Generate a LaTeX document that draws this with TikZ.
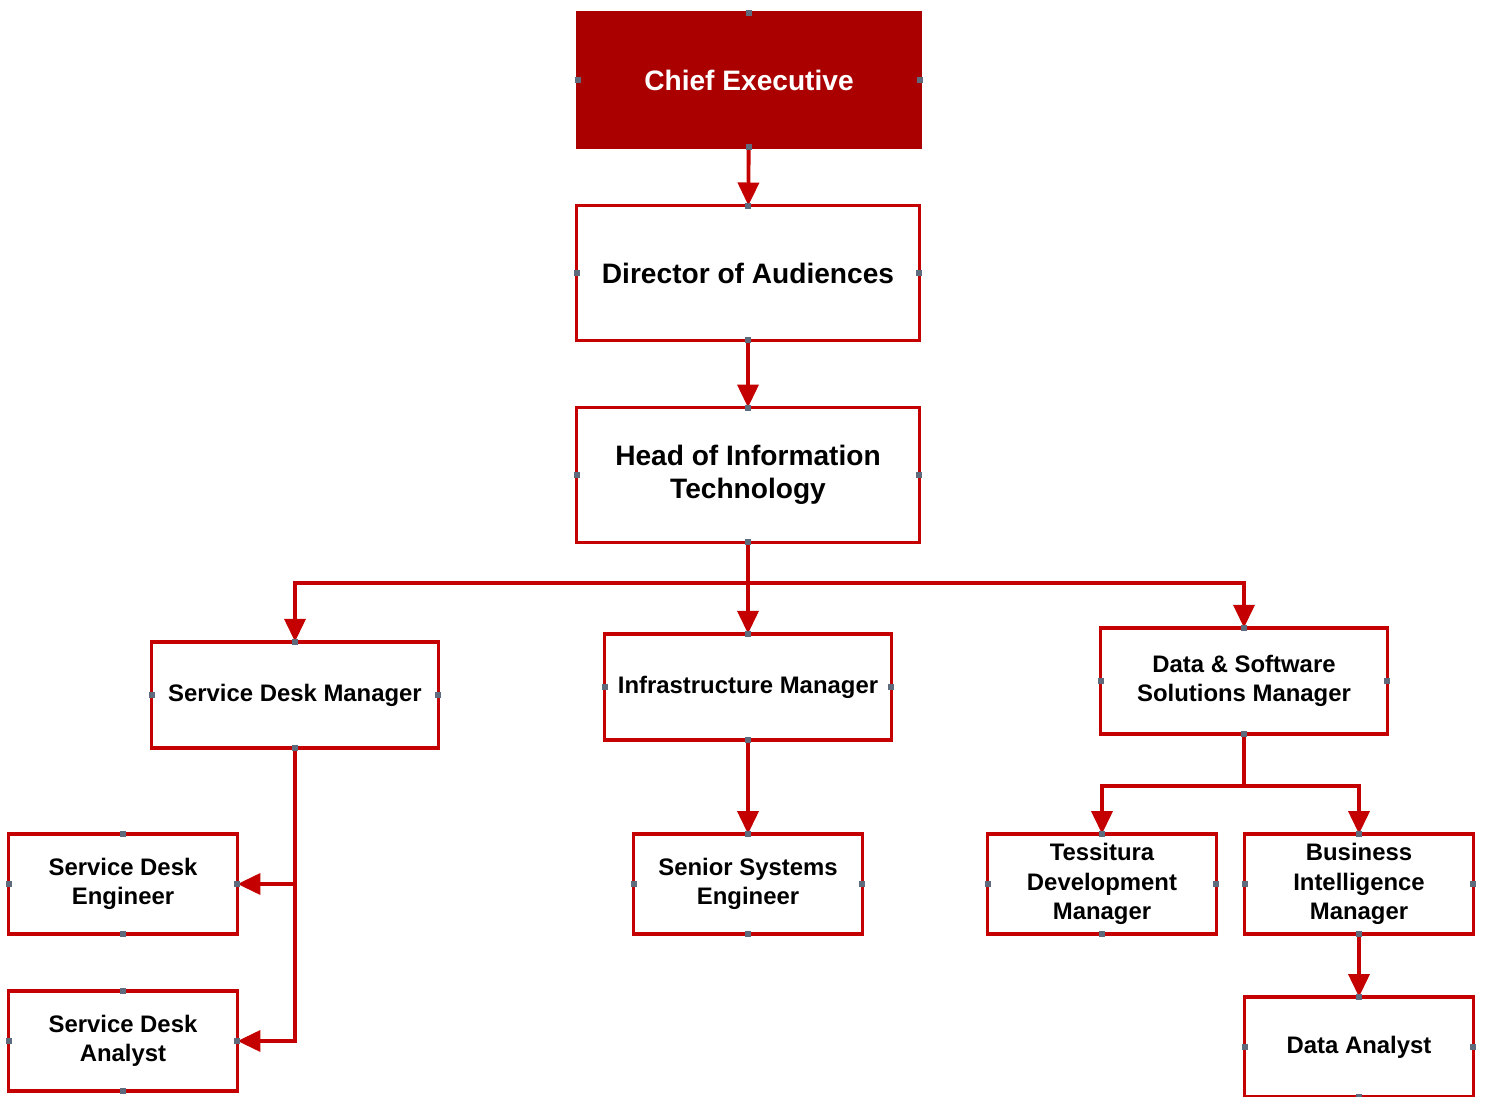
\documentclass[tikz,border=0pt]{standalone}
\usepackage{fontspec}
\setmainfont{Liberation Sans}
\usepackage{xcolor}
\usepackage{tikz}
\usetikzlibrary{arrows.meta,positioning}
\definecolor{boxred}{HTML}{C40000}
\definecolor{ceofill}{HTML}{AA0000}
\definecolor{pingrey}{HTML}{5E6B7C}
\begin{document}
\begin{tikzpicture}[x=0.02cm,y=-0.02cm,
  post/.style={draw=boxred,fill=white,line width=2.2pt,outer sep=0pt,align=center,font=\fontsize{13.6}{16.8}\selectfont\bfseries},
  bigpost/.style={post,minimum width=6.86cm,minimum height=2.7cm,font=\fontsize{16}{18.7}\selectfont\bfseries},
  ceopost/.style={bigpost,fill=ceofill,draw=ceofill,text=white},
  midpost/.style={post,minimum width=5.74cm,minimum height=2.13cm},
  smallpost/.style={post,minimum width=4.58cm,minimum height=2cm},
  link/.style={draw=boxred,line width=2.2pt,-{Triangle[length=4.6mm,width=4.2mm]}}]
\useasboundingbox (0,0) rectangle (1485,1097);
% top of the chart
\node[ceopost] (ceo) at (749,80) {Chief Executive};
\node[bigpost] (dir) at (748,273) {Director of Audiences};
\node[bigpost] (hit) at (748,475) {Head of Information\\Technology};
% managers
\node[midpost] (sdm) at (295,695) {Service Desk Manager};
\node[midpost] (inf) at (748,687) {Infrastructure Manager};
\node[midpost] (dss) at (1244,681) {Data \& Software\\Solutions Manager};
% staff
\node[smallpost] (sde) at (123,884) {Service Desk\\Engineer};
\node[smallpost] (sda) at (123,1041) {Service Desk\\Analyst};
\node[smallpost] (sse) at (748,884) {Senior Systems\\Engineer};
\node[smallpost] (tdm) at (1102,884) {Tessitura\\Development\\Manager};
\node[smallpost] (bim) at (1359,884) {Business\\Intelligence\\Manager};
\node[smallpost] (dan) at (1359,1047) {Data Analyst};
\coordinate (hitbus) at (748,583);
\coordinate (dssbus) at (1244,786);
\draw[link] (ceo) -- (dir);
\draw[link] (dir) -- (hit);
\draw[link] (hit.south) -- (hitbus) -| (sdm.north);
\draw[link] (hitbus) -| (dss.north);
\draw[link] (hitbus) -- (inf.north);
\draw[link] (sdm.south) |- (sde.east);
\draw[link] (sdm.south) |- (sda.east);
\draw[link] (inf) -- (sse);
\draw[link] (dss.south) -- (dssbus) -| (tdm.north);
\draw[link] (dssbus) -| (bim.north);
\draw[link] (bim) -- (dan);
% connection pins
\foreach \n in {ceo,dir,hit,sdm,inf,dss,sde,sda,sse,tdm,bim,dan}
  \foreach \a in {north,south,east,west}
    \fill[pingrey] (\n.\a) +(-3,-3) rectangle +(3,3);
\end{tikzpicture}
\end{document}
